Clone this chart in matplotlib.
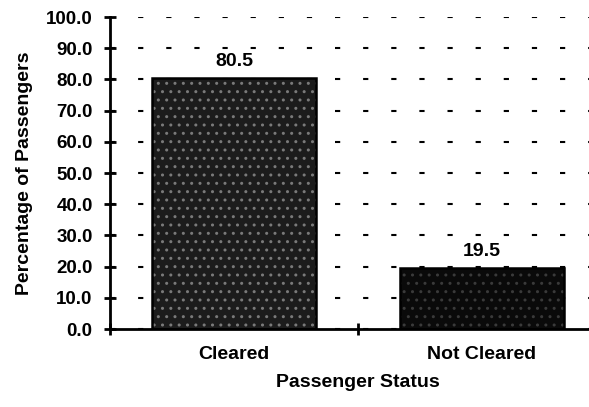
import matplotlib.pyplot as plt
import numpy as np

# data
categories = ['Cleared', 'Not Cleared']
percentages = [80.5, 19.5]
yticks = np.arange(0, 101, 10)

plt.rcParams['font.family'] = ['Liberation Sans', 'DejaVu Sans']
plt.rcParams['font.weight'] = 'bold'
plt.rcParams['hatch.linewidth'] = 1.0

fig = plt.figure(figsize=(5.89, 4.07), dpi=100)
ax = fig.add_axes([110/589, 78/407, 496/589, 312/407])

x = np.arange(len(categories))
facecols = ['#1c1c1c', '#0a0a0a']
hatchcols = ['#7a7a7a', '#3a3a3a']
for xi, v, fc, hc in zip(x, percentages, facecols, hatchcols):
    # speckled fill
    ax.bar(xi, v, width=0.66, color=fc, edgecolor=hc, hatch='..', linewidth=0, zorder=2)
    # outline
    ax.bar(xi, v, width=0.66, fill=False, edgecolor='black', linewidth=1.8, zorder=3)
    ax.text(xi, v + 2.6, f'{v:.1f}', ha='center', va='bottom', fontsize=14,
            fontweight='bold', zorder=4)

ax.set_xlim(-0.5, 1.5)
ax.set_ylim(0, 100)
ax.set_yticks(yticks)
ax.set_yticklabels([f'{t:.1f}' for t in yticks], fontsize=13.5, fontweight='bold')
ax.tick_params(axis='y', direction='inout', length=9, width=2, pad=8)

ax.set_xticks(x)
ax.set_xticklabels(categories, fontsize=14, fontweight='bold')
ax.tick_params(axis='x', which='major', length=0, pad=12)
ax.set_xticks([-0.5, 0.5, 1.5], minor=True)
ax.tick_params(axis='x', which='minor', direction='inout', length=9, width=2)

ax.yaxis.grid(True, linestyle=(0, (2.5, 11)), color='black', linewidth=1.5, zorder=0)
ax.set_axisbelow(True)

for s in ['top', 'right']:
    ax.spines[s].set_visible(False)
ax.spines['left'].set_linewidth(2)
ax.spines['bottom'].set_linewidth(2)

ax.set_ylabel('Percentage of Passengers', fontsize=14, fontweight='bold', labelpad=9)
ax.set_xlabel('Passenger Status', fontsize=14, fontweight='bold', labelpad=8)

fig.savefig('out.png', dpi=100)
